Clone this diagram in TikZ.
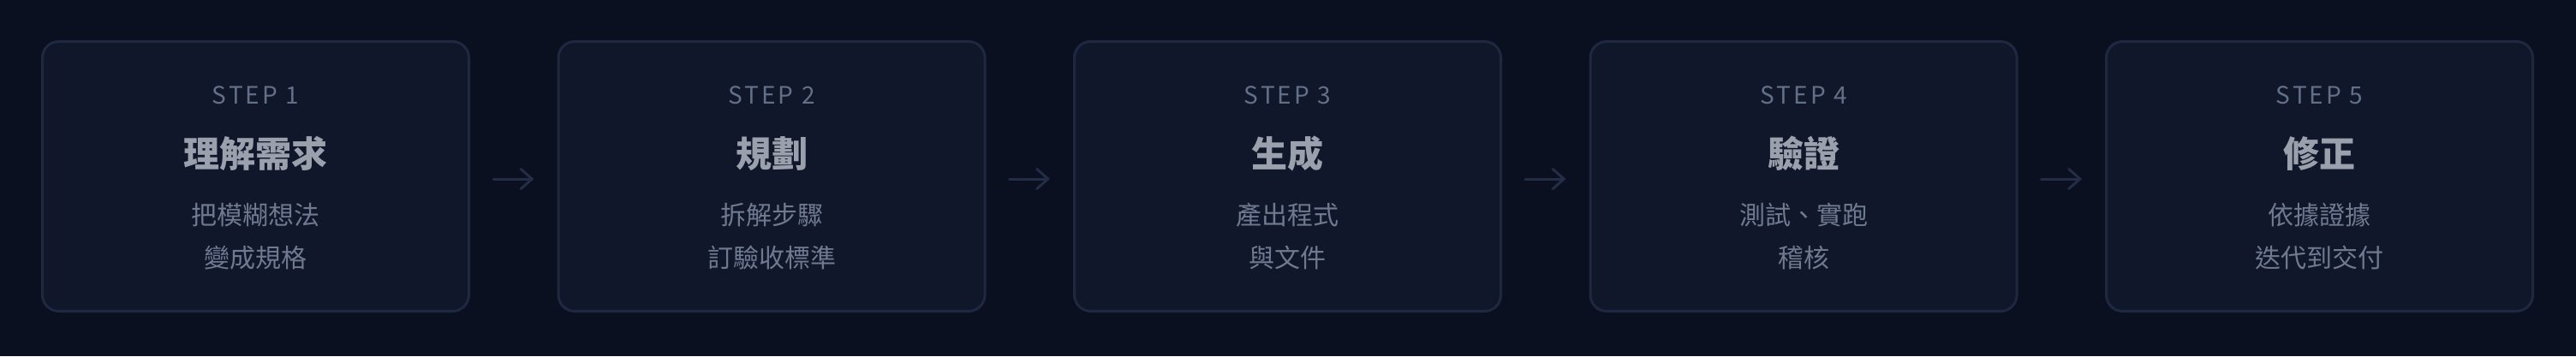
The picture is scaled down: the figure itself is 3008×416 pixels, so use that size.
\documentclass[tikz,border=0pt]{standalone}
\usepackage{fontspec}
\setmainfont{Noto Sans CJK TC}
\usetikzlibrary{arrows.meta,positioning}
\definecolor{bgc}{HTML}{0B1020}
\definecolor{cardfill}{HTML}{10172A}
\definecolor{cardline}{HTML}{1E2840}
\definecolor{arwc}{HTML}{232E46}
\definecolor{steptxt}{HTML}{636F88}
\definecolor{ttltxt}{HTML}{9AA0AC}
\definecolor{dsctxt}{HTML}{6F7A90}

\begin{document}
\begin{tikzpicture}[x=1pt, y=1pt,
 card/.style={draw=cardline, fill=cardfill, line width=3pt, rounded corners=19pt, minimum width=498pt, minimum height=315pt, inner sep=0pt},
 steplbl/.style={anchor=base, text=steptxt, inner sep=0pt, font=\fontsize{28}{32}\selectfont\addfontfeatures{LetterSpace=11}},
 ttl/.style={anchor=base, text=ttltxt, inner sep=0pt, font=\fontsize{42}{50}\selectfont\bfseries},
 dsc/.style={anchor=base, text=dsctxt, inner sep=0pt, font=\fontsize{30}{36}\selectfont},
 arw/.style={arwc, line width=3pt, line cap=round, -{Straight Barb[length=13pt, width=23pt, line cap=round]}, shorten <=27pt, shorten >=27pt}]
\fill[bgc] (0,0) rectangle (3008,416);
% the five steps
\foreach \i/\name/\lineA/\lineB in {1/理解需求/把模糊想法/變成規格, 2/規劃/拆解步驟/訂驗收標準, 3/生成/產出程式/與文件, 4/驗證/測試、實跑/稽核, 5/修正/依據證據/迭代到交付} {
 \node[card] (s\i) at ({298.5+602.5*(\i-1)},210) {};
 \node[steplbl] (l\i) at ([yshift=-74pt]s\i.north) {STEP \i};
 \node[ttl] (t\i) at ([yshift=-148pt]s\i.north) {\name};
 \node[dsc] (a\i) at ([yshift=-215pt]s\i.north) {\lineA};
 \node[dsc] (b\i) at ([yshift=-265pt]s\i.north) {\lineB};
}
% arrows between the steps
\foreach \i [evaluate=\i as \j using int(\i+1)] in {1,...,4}
 \draw[arw] ([yshift=-3pt]s\i.east) -- ([yshift=-3pt]s\j.west);
\end{tikzpicture}
\end{document}
